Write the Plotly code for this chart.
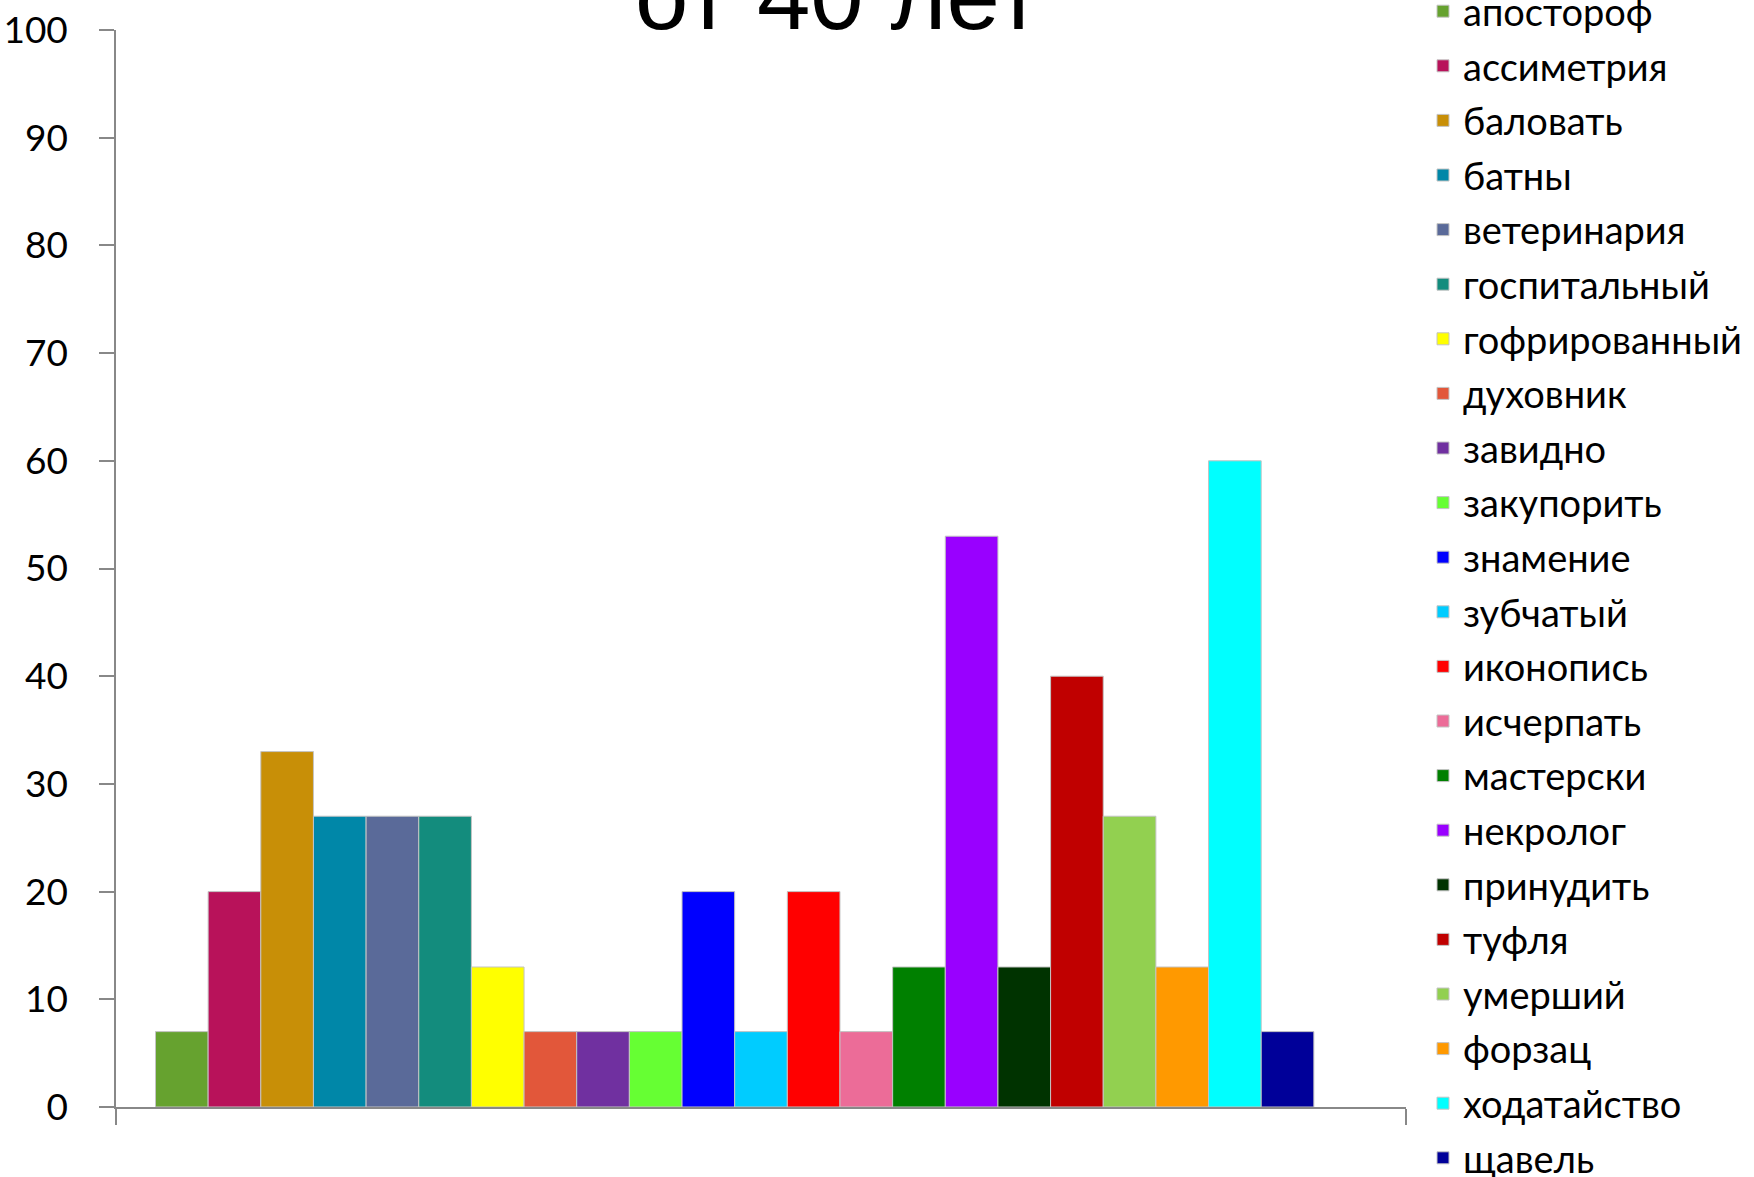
import plotly.graph_objects as go

# ---- data ----
category = ["от 40 лет"]
words = ["апостороф", "ассиметрия", "баловать", "батны", "ветеринария",
         "госпитальный", "гофрированный", "духовник", "завидно", "закупорить",
         "знамение", "зубчатый", "иконопись", "исчерпать", "мастерски",
         "некролог", "принудить", "туфля", "умерший", "форзац",
         "ходатайство", "щавель"]
values = [7, 20, 33, 27, 27, 27, 13, 7, 7, 7, 20, 7, 20, 7, 13, 53, 13, 40, 27, 13, 60, 7]
colors = ["#66A22F", "#B8125A", "#C88F07", "#0087A8", "#5A6A99",
          "#138C7D", "#FFFF00", "#E2573A", "#7030A0", "#66FF33",
          "#0000FF", "#00CCFF", "#FF0000", "#EC6C98", "#008000",
          "#9900FF", "#003300", "#C00000", "#92D050", "#FF9900",
          "#00FFFF", "#000099"]
title_text = "от 40 лет"
y_ticks = [0, 10, 20, 30, 40, 50, 60, 70, 80, 90, 100]

W, H = 1754, 1177
ML, MR, MT, MB = 116, 348, 30, 70
PW = W - ML - MR
PH = H - MT - MB

fig = go.Figure()
for i, (w, v, c) in enumerate(zip(words, values, colors)):
    fig.add_trace(go.Bar(
        x=category, y=[v], name=w, legendgroup=f"g{i}",
        marker=dict(color=c, line=dict(color="#C4C4C4", width=1)),
        hoverinfo="name+y",
    ))
# empty slot that the original chart keeps at the right end of the group
fig.add_trace(go.Bar(x=category, y=[None], name="", showlegend=False,
                     marker=dict(color="white", line=dict(width=0)),
                     hoverinfo="skip"))

axis_col = "#888888"
legend_font = 38
fig.update_layout(
    width=W, height=H,
    margin=dict(l=ML, r=MR, t=MT, b=MB, autoexpand=False),
    paper_bgcolor="white", plot_bgcolor="white",
    barmode="group", bargap=1.5 / 24.5, bargroupgap=0,
    font=dict(family="Lato, 'Open Sans', sans-serif", color="black"),
    showlegend=True,
    legend=dict(
        x=(1463 - 40 - ML) / PW, xanchor="left",
        y=1 + (MT + 20) / PH, yanchor="top", yref="paper",
        font=dict(size=legend_font, family="Lato, 'Open Sans', sans-serif", color="black"),
        bgcolor="rgba(0,0,0,0)", borderwidth=0,
        maxheight=1400, traceorder="grouped", tracegroupgap=2.2,
    ),
    xaxis=dict(
        type="category", range=[-0.5, 0.5],
        showline=True, linecolor=axis_col, linewidth=1.5,
        ticks="outside", tickson="boundaries", ticklen=16, tickcolor=axis_col,
        tickwidth=1.5, showticklabels=False, showgrid=False, zeroline=False,
    ),
    yaxis=dict(
        range=[0, 100], tickvals=y_ticks, ticktext=[str(t) for t in y_ticks],
        showline=True, linecolor=axis_col, linewidth=1.5,
        ticks="outside", ticklen=15, tickcolor=axis_col, tickwidth=1.5,
        tickfont=dict(size=37, family="Lato, 'Open Sans', sans-serif", color="black"),
        ticklabelstandoff=24, ticklabeloverflow="allow",
        showgrid=False, zeroline=False,
    ),
    annotations=[dict(
        text=title_text, xref="paper", yref="paper",
        x=(838 - ML) / PW, y=1 - 21.3 / PH, xanchor="center", yanchor="bottom",
        showarrow=False,
        font=dict(family="Liberation Sans, Arial, sans-serif", size=96, color="black"),
    )],
)

# remove the default 8px page margin so the figure fills the window exactly
fig.write_html("out.html", config={"displayModeBar": False},
               post_script="document.body.style.margin='0';")
